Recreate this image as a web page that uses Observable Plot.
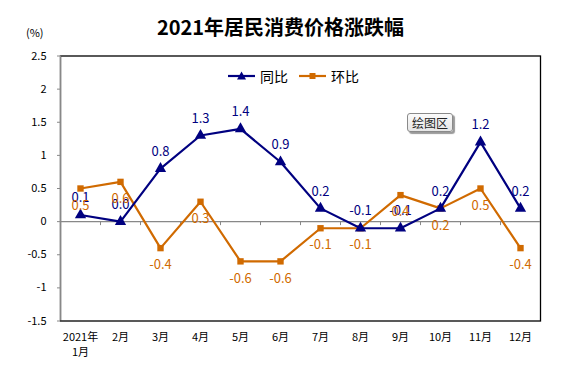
<!DOCTYPE html>
<html><head><meta charset="utf-8">
<script src="https://cdn.jsdelivr.net/npm/d3@7"></script>
<script src="https://cdn.jsdelivr.net/npm/@observablehq/plot@0.6"></script>
<style>
body{margin:0;background:#fff;font-family:"Noto Sans CJK SC","Noto Sans",sans-serif;}
#wrap{position:relative;width:561px;height:367px;overflow:hidden;}
#chart{position:absolute;left:0;top:0;}
.ov{position:absolute;white-space:nowrap;}
#title{left:0;width:561px;top:13px;text-align:center;font-size:20px;font-weight:bold;line-height:28px;}
#unit{left:26px;top:24px;font-size:11px;}
#legend{left:227px;top:66px;font-size:14px;display:flex;align-items:center;}
#legend span{margin-right:10px;}
#plotarea{left:407px;top:113px;width:44px;height:17px;border:1px solid #8a8a8a;border-radius:3px;background:linear-gradient(#fbfbfb,#e6e6e6);box-shadow:2px 2px 1px #9a9a9a;font-size:12px;line-height:17px;text-align:center;color:#222;}
</style></head>
<body>
<div id="wrap">
<div id="chart"></div>
<div class="ov" id="title">2021年居民消费价格涨跌幅</div>
<div class="ov" id="unit">(%)</div>
<div class="ov" id="legend"></div>
<div class="ov" id="plotarea">绘图区</div>
</div>
<script>
const months = ["1月","2月","3月","4月","5月","6月","7月","8月","9月","10月","11月","12月"];
const xLabels = ["2021年\n1月","2月","3月","4月","5月","6月","7月","8月","9月","10月","11月","12月"];
const tongbi = [0.1, 0.0, 0.8, 1.3, 1.4, 0.9, 0.2, -0.1, -0.1, 0.2, 1.2, 0.2];
const huanbi = [0.5, 0.6, -0.4, 0.3, -0.6, -0.6, -0.1, -0.1, 0.4, 0.2, 0.5, -0.4];
const yTicks = [-1.5, -1, -0.5, 0, 0.5, 1, 1.5, 2, 2.5];
const seriesNames = ["同比", "环比"];
const navy = "#000080", orange = "#d06a00";

const tb = months.map((m, i) => ({m, v: tongbi[i]}));
const hb = months.map((m, i) => ({m, v: huanbi[i]}));
const font = "'Noto Sans CJK SC','Noto Sans',sans-serif";

const chart = Plot.plot({
  width: 561, height: 367,
  marginLeft: 60, marginRight: 21, marginTop: 55.5, marginBottom: 46.5,
  x: {type: "point", domain: months, padding: 0.5, axis: null},
  y: {domain: [-1.5, 2.5], axis: null},
  style: {fontFamily: font, background: "transparent", overflow: "visible"},
  marks: [
    Plot.frame({stroke: "#000", strokeWidth: 1.3}),
    Plot.ruleX([months[0]], {dx: -20, stroke: "#888", strokeWidth: 1.3}),
    Plot.ruleY([0], {stroke: "#888", strokeWidth: 1.2}),
    Plot.ruleX(months.slice(0, -1), {x: d => d, dx: 20, y1: 0, y2: 0, insetBottom: -4, stroke: "#888"}),
    Plot.axisY({ticks: yTicks, tickSize: 3, tickPadding: 11, stroke: "#888", fill: "#000",
      fontSize: 11, tickFormat: d => String(d), label: null}),
    Plot.axisX({tickSize: 0, tickPadding: 9, fontSize: 11, lineHeight: 1.4, fill: "#000",
      tickFormat: (d) => xLabels[months.indexOf(d)], label: null}),
    Plot.line(hb, {x: "m", y: "v", stroke: orange, strokeWidth: 2.2}),
    Plot.dot(hb, {x: "m", y: "v", symbol: "square", r: 3.6, fill: orange, stroke: null}),
    Plot.line(tb, {x: "m", y: "v", stroke: navy, strokeWidth: 2.2}),
    Plot.dot(tb, {x: "m", y: "v", symbol: "triangle", r: 4.2, fill: navy, stroke: null}),
    Plot.text(tb, {x: "m", y: "v", text: d => d.v.toFixed(1), dy: -17, fill: navy, fontSize: 13}),
    Plot.text(hb, {x: "m", y: "v", text: d => d.v.toFixed(1), dy: 17, fill: orange, fontSize: 13})
  ]
});
document.getElementById("chart").appendChild(chart);

// legend
const leg = document.getElementById("legend");
const swatch = (color, shape) => {
  const s = `<svg width="30" height="12" style="margin-right:3px"><line x1="1" x2="28" y1="6" y2="6" stroke="${color}" stroke-width="2.2"/>` +
    (shape === "tri" ? `<path d="M14.5,1.5L19,9.5L10,9.5Z" fill="${color}"/>` : `<rect x="11.5" y="3" width="6" height="6" fill="${color}"/>`) + `</svg>`;
  return s;
};
leg.innerHTML = swatch(navy, "tri") + `<span>${seriesNames[0]}</span>` + swatch(orange, "sq") + `<span>${seriesNames[1]}</span>`;
</script>
</body></html>
